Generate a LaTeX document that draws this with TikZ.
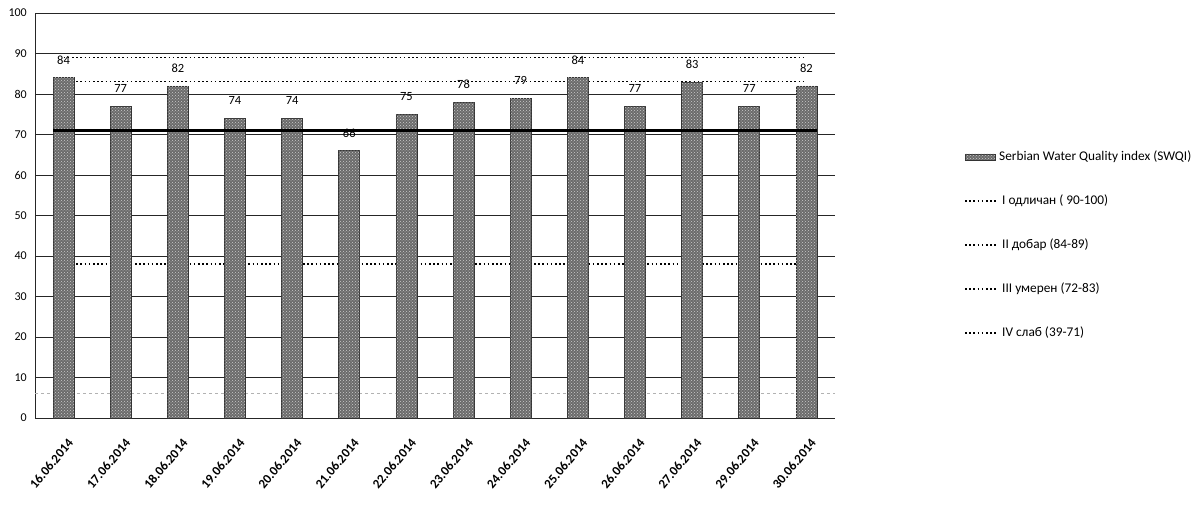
\documentclass[tikz,border=0pt]{standalone}
\usepackage{fontspec}
\setmainfont{Carlito}
\usetikzlibrary{patterns}

\tikzset{
  grid line/.style={black!85, line width=0.8pt},
  class line/.style={black, line width=1.3pt, dash pattern=on 1.6pt off 2.6pt},
  index line/.style={black, line width=2.6pt},
  swqi bar/.style={fill=black!58, draw=black!80, line width=0.6pt,
    postaction={pattern=crosshatch dots, pattern color=white!80!black}},
  value label/.style={font=\fontsize{12.5}{12.5}\selectfont, inner sep=0pt},
  tick label/.style={font=\fontsize{12}{12}\selectfont, anchor=east, inner sep=0pt},
  date label/.style={font=\bfseries\fontsize{13}{13}\selectfont, rotate=50, anchor=north east, inner sep=0pt},
  legend text/.style={font=\fontsize{13.3}{13.3}\selectfont, anchor=west, inner sep=0pt}
}

\begin{document}
\begin{tikzpicture}[x=1pt,y=1pt]
\useasboundingbox (0,0) rectangle (1194,508);

\begin{scope}[shift={(0,90)}, y=4.05pt]

% Gridlines and axis
\foreach \v in {0,10,...,100} {
  \draw[grid line] (35,\v) -- (835,\v);
  \node[tick label] (tick\v) at (27,\v) {\v};
}
\draw[grid line] (35,0) -- (35,100);
\draw[black!30, dashed] (35,6) -- (835,6);

% Class limits
\foreach \v in {89,83,38}
  \draw[class line] (63.6,\v) -- (806.4,\v);

% Bars, values and dates
\foreach \d/\val [count=\i] in {16/84,17/77,18/82,19/74,20/74,21/66,22/75,
    23/78,24/79,25/84,26/77,27/83,29/77,30/82} {
  \pgfmathsetmacro\cx{35+57.14*(\i-0.5)}
  \draw[swqi bar] (\cx-10.5,0) rectangle (\cx+10.5,\val);
  \node[value label] (val\i) at (\cx,\val+4.4) {\val};
  \node[date label] (date\i) at (\cx+3.5,-4.9) {\d.06.2014};
}

% Index line
\draw[index line] (53,71) -- (817,71);
\end{scope}

% Legend
\draw[swqi bar] (965,348) rectangle (995,354);
\node[legend text] (leg0) at (999,351) {Serbian Water Quality index (SWQI)};
\foreach \txt [count=\i] in {I одличан ( 90-100),II добар (84-89),
    III умерен (72-83),IV слаб (39-71)} {
  \draw[class line] (965,351-44*\i) -- (997,351-44*\i);
  \node[legend text] (leg\i) at (1002,351-44*\i) {\txt};
}

\end{tikzpicture}
\end{document}
